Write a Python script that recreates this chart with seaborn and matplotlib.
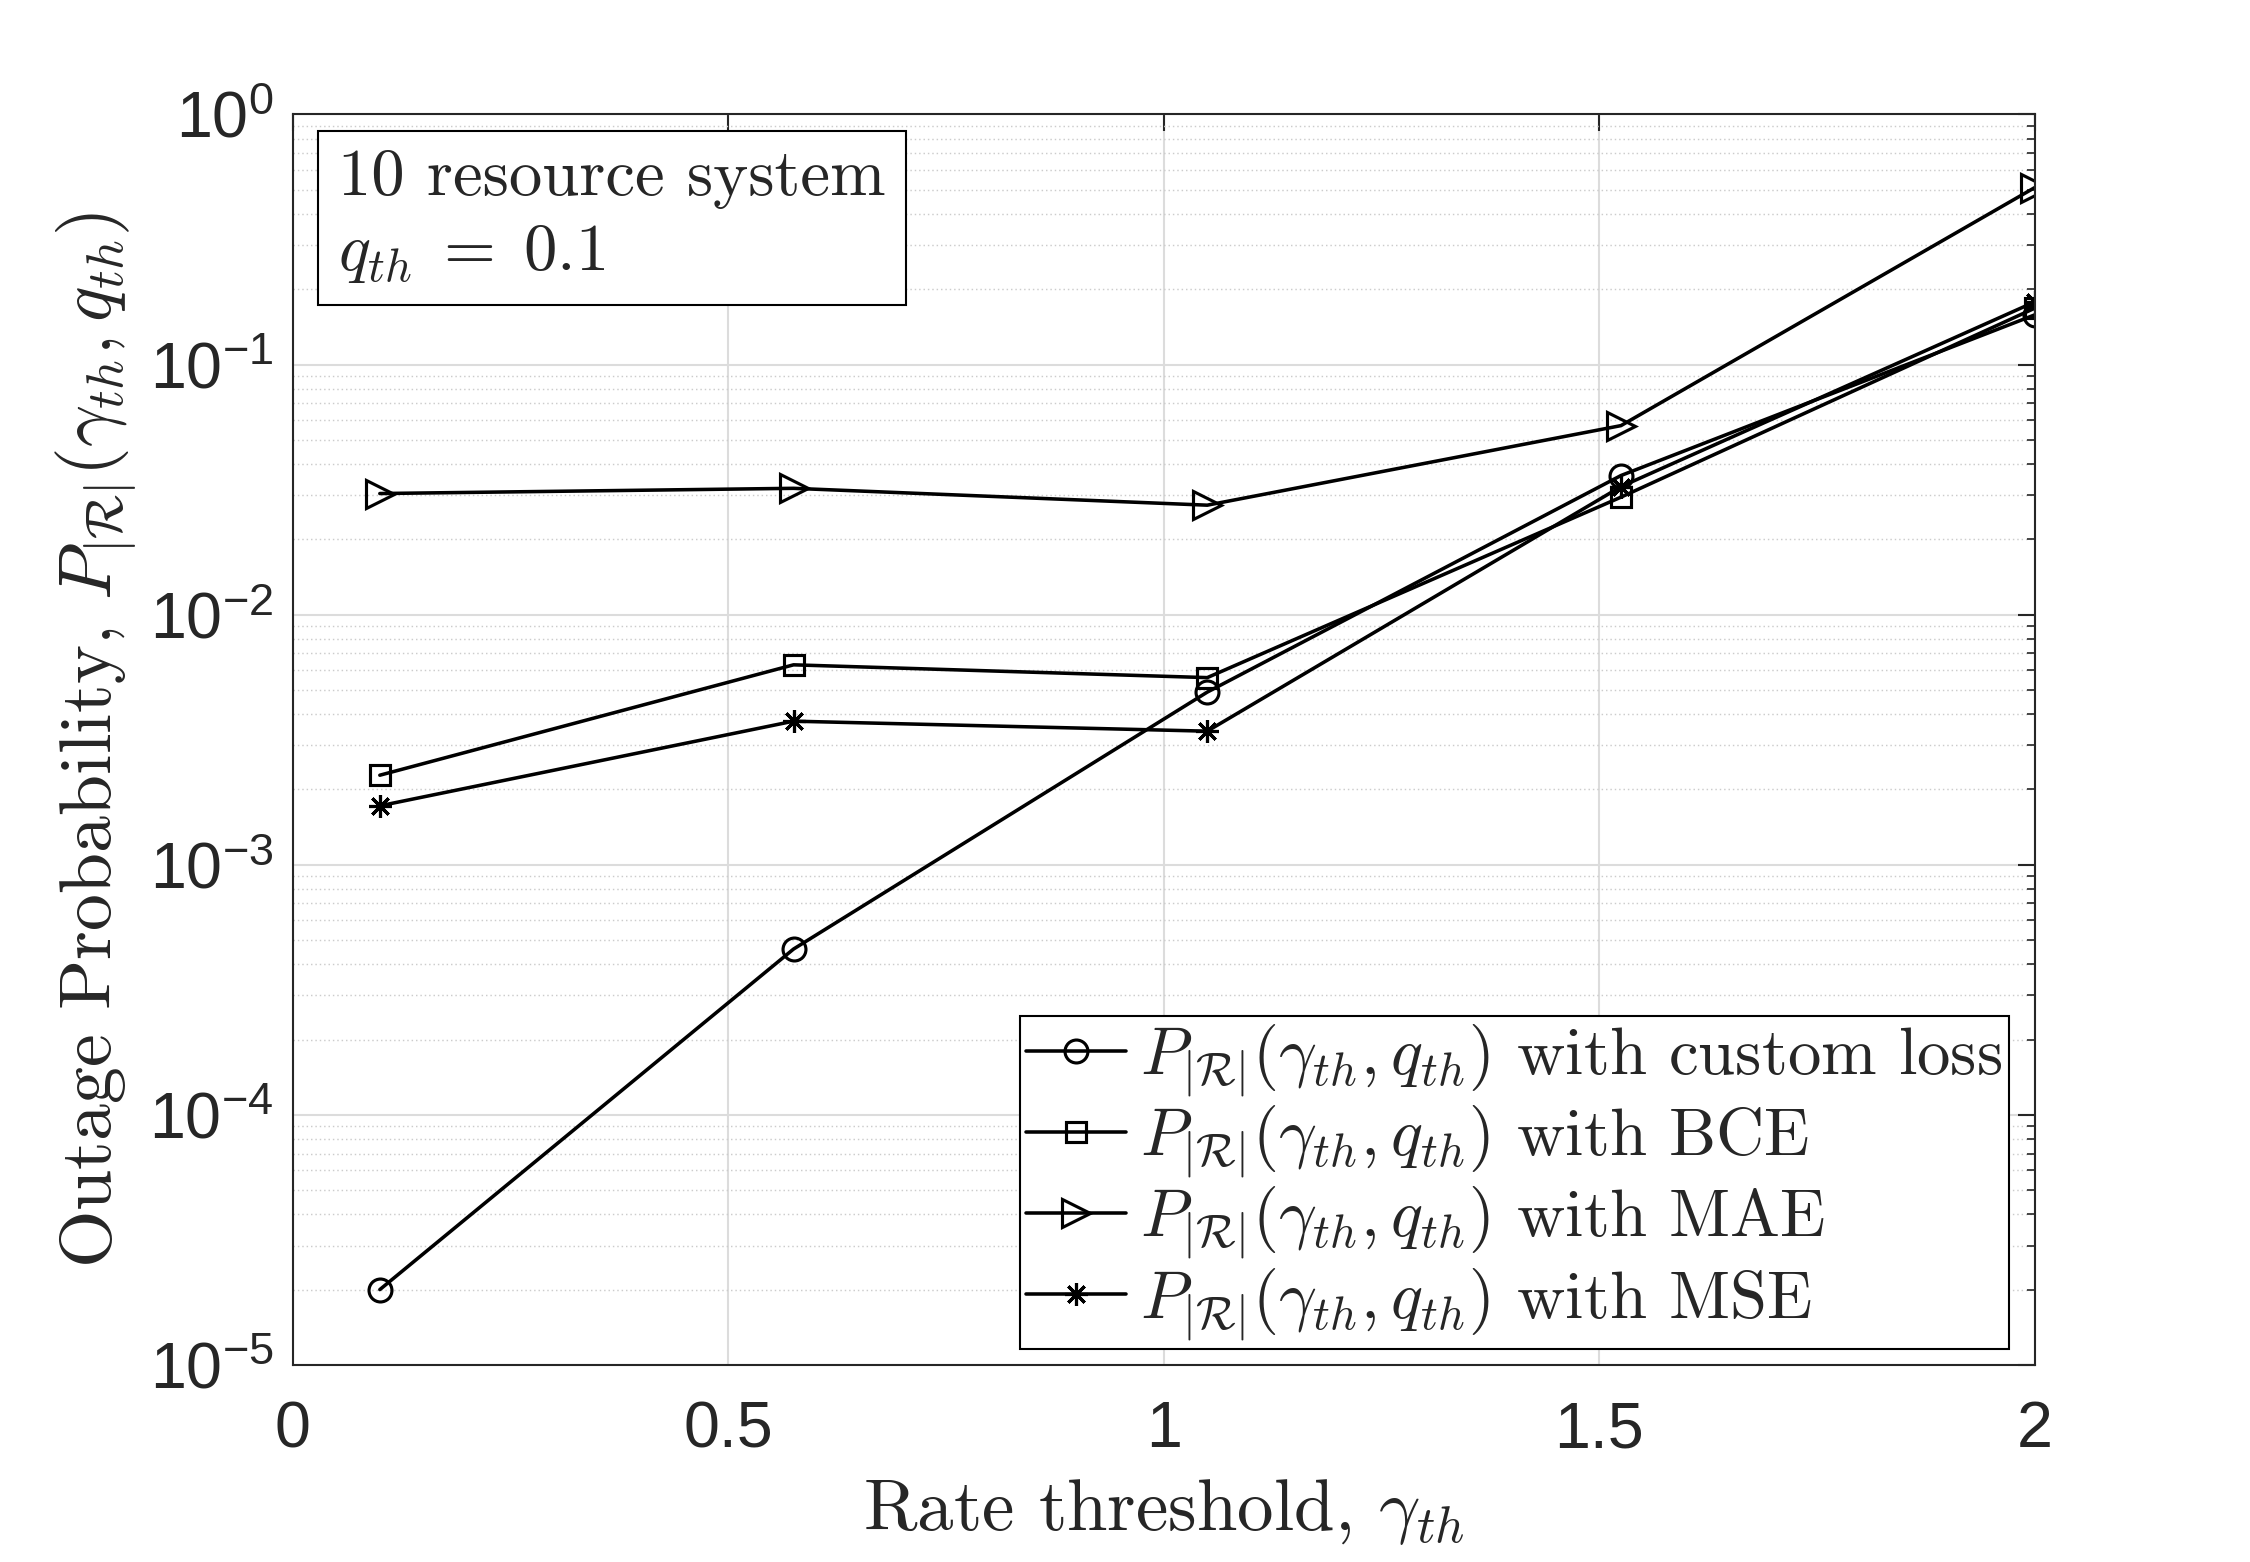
import numpy as np
import matplotlib
matplotlib.use("Agg")
import matplotlib.pyplot as plt
import seaborn as sns

# data
rate_th = [0.1, 0.575, 1.05, 1.525, 2.0]
p_custom = [2.0e-5, 4.6e-4, 4.9e-3, 0.036, 0.158]
p_bce = [2.28e-3, 6.3e-3, 5.6e-3, 0.0295, 0.168]
p_mae = [0.0305, 0.032, 0.0274, 0.057, 0.51]
p_mse = [1.72e-3, 3.75e-3, 3.42e-3, 0.0325, 0.178]

loss_names = ["custom loss", "BCE", "MAE", "MSE"]
series = [p_custom, p_bce, p_mae, p_mse]
markers = ["o", "s", ">", (8, 2, 0)]
msizes = [11, 10, 13, 11]

yticks = [1e-5, 1e-4, 1e-3, 1e-2, 1e-1, 1e0]
ytick_labels = [r"$\mathregular{10^{%d}}$" % e for e in range(-5, 1)]
xticks = [0, 0.5, 1, 1.5, 2]
xtick_labels = ["0", "0.5", "1", "1.5", "2"]

sns.set_style("white")
plt.rcParams["mathtext.fontset"] = "cm"
plt.rcParams["font.family"] = ["Liberation Sans", "DejaVu Sans"]

fig = plt.figure(figsize=(15, 1562 / 150), dpi=150)
ax = fig.add_axes([0.1301, 0.1262, 0.7742, 0.8005])

pr = r"$P_{|\mathcal{R}|}(\gamma_{th}, q_{th})$"
for vals, name, mk, ms in zip(series, loss_names, markers, msizes):
    sns.lineplot(x=rate_th, y=vals, ax=ax, color="k", lw=1.7, marker=mk,
                 markersize=ms, mfc="none", mec="k", mew=1.5,
                 label=pr + " with " + name)

ax.set_yscale("log")
ax.set_xlim(0, 2)
ax.set_ylim(1e-5, 1)
ax.set_xticks(xticks)
ax.set_xticklabels(xtick_labels, fontsize=31)
ax.set_yticks(yticks)
ax.set_yticklabels(ytick_labels, fontsize=31)
ax.xaxis.set_minor_locator(matplotlib.ticker.NullLocator())
ax.yaxis.set_minor_locator(matplotlib.ticker.LogLocator(base=10, subs=np.arange(2, 10)))
ax.yaxis.set_minor_formatter(matplotlib.ticker.NullFormatter())

ax.tick_params(which="both", direction="in", top=True, right=True, colors="#262626")
ax.tick_params(which="major", length=8, width=1.0)
ax.tick_params(which="minor", length=4, width=0.8)
ax.tick_params(axis="x", pad=17)
ax.tick_params(axis="y", pad=9)

ax.grid(which="major", color="#dcdcdc", lw=1.0)
ax.grid(which="minor", axis="y", color="#cccccc", lw=0.7, ls=(0, (1, 2)))
for sp in ax.spines.values():
    sp.set_color("#262626")
    sp.set_linewidth(1.0)
    sp.set_visible(True)

ax.set_xlabel(r"Rate threshold, $\gamma_{th}$", fontsize=35, family="cmr10", labelpad=8)
ax.set_ylabel(r"Outage Probability, " + pr, fontsize=35.5, family="cmr10")
ax.yaxis.set_label_coords(-0.088, 0.5)

ax.text(0.026, 0.972, "10 resource system\n" + r"$q_{th}\;=\;0.1$", transform=ax.transAxes,
        fontsize=32, family="cmr10", va="top", ha="left", linespacing=1.3,
        bbox=dict(boxstyle="square,pad=0.3", fc="white", ec="k", lw=1.0))

leg = ax.legend(loc="lower right", bbox_to_anchor=(0.985, 0.0125), borderaxespad=0,
                prop={"family": "cmr10", "size": 32}, handlelength=1.5,
                handletextpad=0.2, labelspacing=0.07, borderpad=0.1,
                fancybox=False, framealpha=1, edgecolor="k")
leg.get_frame().set_linewidth(1.0)

fig.savefig("out.png", dpi=150)
